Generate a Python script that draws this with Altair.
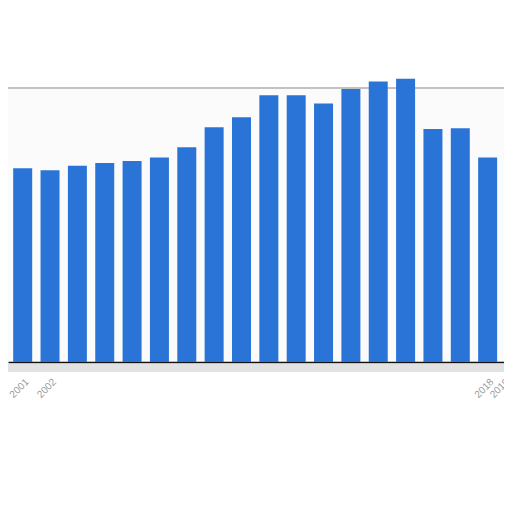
import altair as alt
import pandas as pd

years = list(range(2000, 2020))
values = [20.8, 21.2, 21.0, 21.5, 21.8, 22.0, 22.4, 23.5, 25.7, 26.8,
          29.2, 29.2, 28.3, 29.9, 30.7, 31.0, 25.5, 25.6, 22.4, 23.0]
label_years = [2001, 2002, 2018]
edge_label_years = [2019]

df = pd.DataFrame({"year": years, "value": values})
lab_df = pd.DataFrame({"year": label_years,
                       "label": [str(y) for y in label_years]})
edge_df = pd.DataFrame({"year": edge_label_years,
                        "label": [str(y) for y in edge_label_years]})

xscale = alt.Scale(domain=[2000.463, 2018.598], nice=False, zero=False)
yscale = alt.Scale(domain=[0, 30], nice=False)

base = alt.Chart(df)

shadow = base.mark_rule(color="#e2e2e2", strokeWidth=8, yOffset=6).encode(
    y=alt.datum(0, scale=yscale)
).transform_filter("datum.year == 2000")

top_line = base.mark_rule(color="#c2c2c2", strokeWidth=2).encode(
    y=alt.datum(30, scale=yscale)
).transform_filter("datum.year == 2000")

bars = base.mark_bar(color="#2a74d8", size=19).encode(
    x=alt.X("year:Q", scale=xscale,
            axis=alt.Axis(labels=False, ticks=False, grid=False, title=None,
                          domainColor="#111111", domainWidth=1.5)),
    y=alt.Y("value:Q", scale=yscale,
            axis=alt.Axis(values=[0, 5, 10, 15, 20, 25, 30], labels=False,
                          ticks=False, domain=False, title=None,
                          gridColor="#d4d4d4", gridDash=[2, 2], gridWidth=1)),
)

text_style = dict(angle=315, align="right", baseline="top", fontSize=10,
                  font="Arial", color="#9a9a9a", yOffset=15)

labels = alt.Chart(lab_df).mark_text(xOffset=1, **text_style).encode(
    x=alt.X("year:Q", scale=xscale),
    y=alt.datum(0, scale=yscale),
    text="label:N",
)

edge_labels = alt.Chart(edge_df).mark_text(xOffset=-11, **text_style).encode(
    x=alt.X("year:Q", scale=xscale),
    y=alt.datum(0, scale=yscale),
    text="label:N",
)

chart = alt.layer(shadow, top_line, bars, labels, edge_labels).properties(
    width=496, height=274,
    autosize=alt.AutoSizeParams(type="none"),
    padding={"left": 0, "top": 80, "right": 0, "bottom": 60},
).configure_view(stroke=None, fill="#fbfbfb").configure_scale(continuousPadding=0)

chart.save("out.html", embed_options={"renderer": "svg", "actions": False})
